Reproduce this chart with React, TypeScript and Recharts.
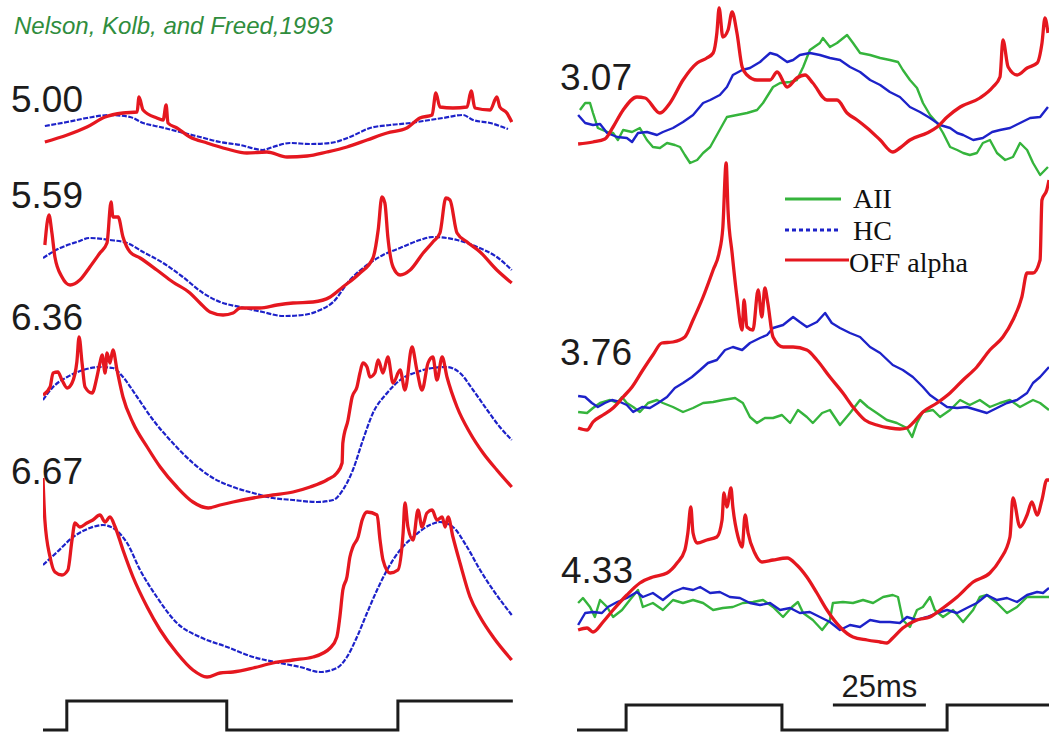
import React from 'react';
import { LineChart, Line, XAxis, YAxis, ReferenceLine } from 'recharts';

type Pt = [number, number];

// ---- colours -------------------------------------------------------------
const RED = '#e5171f';
const BLUE = '#1d22c9';
const GREEN = '#35b43c';
const INK = '#1c1c1c';

// ---- labels --------------------------------------------------------------
const titleText = 'Nelson, Kolb, and Freed,1993';
const leftLabels = ['5.00', '5.59', '6.36', '6.67'];
const rightLabels = ['3.07', '3.76', '4.33'];
const legendNames = ['AII', 'HC', 'OFF alpha'];
const scaleBarText = '25ms';
const scaleBarMs: [number, number] = [68.8, 93.8];

// ---- recordings: [time (ms), response (a.u.)] ------------------------------
// Left column (OFF alpha vs HC)
const offA: Pt[] = [[0.5,28],[6.5,35],[11.8,43],[16.7,53],[21.5,57],[25.3,58],[25.8,73],[26.9,60],[30.6,52],[32.3,50],[33.1,65],[33.6,47],[36,42],[39.5,33],[44.1,27],[49.5,21],[54.8,17],[60.2,18],[65.6,13],[71,14],[76.3,18],[81.7,23],[87.1,30],[92.5,37],[97.8,42],[101.3,52],[104.6,55],[105.6,77],[106.7,63],[110.2,62],[114,63],[115.1,79],[116.1,62],[120.2,60],[122,73],[122.8,63],[124.7,57],[126,48]];
const hcA: Pt[] = [[0.5,44],[6.5,48],[11.8,52],[18,55],[23.4,53],[26.9,47],[31.5,43],[36.8,38],[42.2,33],[47.6,28],[53,25],[59.1,20],[61.8,23],[66.4,27],[71.8,26],[77.2,27],[82.5,33],[87.9,42],[93.3,45],[98.7,47],[102.2,49],[107.5,52],[112.9,55],[115.6,50],[120.2,47],[125,41]];

const offB: Pt[] = [[0.5,85],[1.6,115],[2.4,97],[3.2,73],[5.1,53],[7.3,45],[9.9,50],[12.6,63],[15.3,77],[17.2,87],[18.3,128],[18.8,113],[20.2,113],[21.5,93],[23.4,78],[26.1,72],[30.6,60],[34.9,48],[39.5,37],[42.2,27],[44.9,18],[48.4,15],[51.1,17],[53,22],[58.3,22],[62.9,25],[67.2,27],[72.6,28],[77.2,33],[80.6,43],[85.2,57],[88.7,72],[90.1,100],[91.1,133],[91.9,127],[92.7,93],[94.1,63],[96,55],[98.7,60],[102.2,77],[104.8,88],[106.7,97],[108.3,132],[109.4,130],[111.3,97],[114,88],[117.5,78],[122,60],[126,47]];
const hcB: Pt[] = [[0,72],[4.6,82],[9.1,88],[12.6,92],[18,90],[22.6,87],[26.9,78],[32.3,67],[37.6,53],[43,37],[47.6,28],[53,23],[59.1,18],[64.5,14],[69.9,15],[74.5,20],[78,28],[82.5,50],[87.1,65],[91.4,75],[96,82],[101.3,90],[104.8,93],[111.3,90],[116.7,83],[122,73],[126,60]];

const offC: Pt[] = [[0,125],[1.9,133],[2.7,147],[4,148],[5.1,140],[6.5,132],[7.8,137],[9.1,158],[9.7,183],[10.5,157],[11.3,133],[13.2,127],[14.5,143],[15.3,157],[15.9,165],[16.7,147],[17.2,167],[18,157],[18.8,170],[19.9,150],[21.5,123],[24.2,97],[28,73],[31.5,53],[36,33],[40.3,18],[44.4,12],[47.6,15],[51.1,18],[56.5,22],[61.8,25],[67.2,28],[71.8,33],[76.3,40],[79,47],[80.4,57],[80.6,77],[82,100],[83.1,123],[84.4,133],[85.2,147],[86,157],[87.1,153],[87.9,143],[89.2,147],[90.1,160],[91.4,147],[92.7,163],[94.1,137],[96,150],[97.3,130],[99.2,173],[100.5,150],[101.9,130],[103.5,157],[104.8,163],[105.9,140],[107.3,163],[108.6,143],[111.3,113],[114.8,87],[118.3,67],[122,50],[126,33]];
const hcC: Pt[] = [[0,120],[2.7,133],[6.5,143],[10.8,150],[15.3,153],[18.8,152],[21.5,143],[25.3,123],[29.6,100],[34.9,77],[40.3,57],[45.7,42],[51.1,33],[56.5,27],[61.8,22],[67.2,20],[73.7,18],[78,20],[80.6,30],[83.3,50],[86,80],[88.7,107],[92.5,127],[96,140],[100.5,148],[104.8,152],[108.6,153],[112.1,147],[115.6,130],[119.4,110],[122.8,93],[126,80]];

const offD: Pt[] = [[0,212],[0.5,170],[1.9,133],[3.2,118],[5.1,115],[6.7,120],[7.8,150],[8.6,167],[9.9,163],[11.8,167],[13.4,170],[15.3,175],[16.7,168],[18,173],[19.4,163],[21.5,140],[24.2,113],[28,83],[31.5,60],[36,37],[40.3,20],[44.1,13],[47.6,17],[51.1,18],[56.5,22],[61.8,27],[67.2,30],[72.6,33],[77.2,42],[79,53],[79.8,73],[80.6,100],[81.7,113],[82.5,133],[83.3,143],[84.7,153],[85.8,170],[87.1,178],[89.8,175],[90.6,150],[91.4,130],[93.3,117],[95.4,120],[96.8,157],[97.3,187],[98.1,163],[99.5,150],[100.8,180],[101.9,163],[103.2,177],[104.6,180],[105.9,170],[107.3,173],[108.1,163],[108.9,173],[110.2,153],[112.1,127],[114.8,93],[117.5,73],[121,53],[126,30]];
const hcD: Pt[] = [[0,125],[3.8,138],[8.1,153],[12.6,162],[16.1,165],[18.8,162],[22.6,147],[26.1,120],[30.6,93],[36,67],[42.2,53],[49.5,43],[56.5,33],[63.7,27],[69.1,23],[74.5,18],[79,22],[81.7,33],[84.4,53],[87.1,77],[89.8,100],[92.5,120],[96,140],[99.5,153],[104,165],[106.7,168],[110.2,163],[114,143],[117.5,120],[121,100],[126,75]];

// Right column (AII, HC, OFF alpha)
const offE: Pt[] = [[0.3,46],[4.3,48],[7.5,51],[9.7,63],[12.4,80],[16.1,93],[18.3,92],[22.3,77],[25,87],[28.5,110],[32.3,127],[34.9,132],[36.6,137],[37.6,157],[38.2,182],[39.2,153],[40.6,160],[41.7,178],[43,157],[44.4,123],[45.7,115],[48.4,110],[51.9,110],[53.8,118],[56.5,103],[59.1,112],[61.3,115],[63.4,107],[67.2,90],[69.9,90],[72.6,77],[75.3,70],[78,62],[81.5,50],[84.9,38],[86.8,42],[89.5,50],[94.1,57],[96.8,63],[99.5,73],[103,83],[108.3,92],[111.8,103],[113.7,113],[114.5,150],[115.9,123],[118.3,115],[121,122],[123.7,127],[125,147],[125.8,172],[126.6,157]];
const hcE: Pt[] = [[0.3,75],[2.2,67],[4.3,65],[6.2,66],[8.1,57],[10.8,53],[13.4,52],[14.8,48],[16.4,57],[18.8,58],[21.5,55],[23.1,58],[25.8,62],[28.5,68],[31.2,75],[33.9,87],[35.8,90],[38.4,95],[40.3,103],[41.9,115],[44.4,120],[46.5,122],[49.2,128],[51.9,137],[53.8,135],[56.5,128],[58.1,130],[59.9,135],[62.6,137],[65.3,135],[68,132],[70.7,130],[73.4,123],[76.1,118],[78.8,110],[81.5,105],[84.1,98],[86.8,93],[89.5,83],[92.2,78],[94.9,72],[97.6,65],[100.3,62],[102.2,57],[103.8,55],[106.5,50],[109.1,52],[111.6,58],[113.7,60],[116.4,62],[119.1,67],[121.8,72],[124.5,73],[126.6,83]];
const aiiE: Pt[] = [[0.8,80],[2.2,87],[3.5,87],[4.3,77],[5.6,62],[8.1,58],[9.7,57],[11,50],[12.4,60],[14.8,58],[16.9,62],[18.8,50],[20.4,43],[22.3,42],[24.2,47],[26.3,45],[27.7,43],[29,35],[30.4,27],[32.3,30],[33.9,37],[35.8,43],[37.9,57],[40.3,73],[43,75],[45.7,77],[48.4,80],[50,87],[52.7,103],[54.6,107],[57.3,108],[59.1,110],[60.8,123],[62.6,140],[65.3,147],[66.1,152],[68,143],[69.9,147],[72.6,155],[74.2,147],[76.1,137],[78.8,135],[81.5,132],[84.1,130],[86.3,128],[87.6,120],[89.5,110],[91.4,102],[93,87],[94.9,75],[96.8,67],[98.4,57],[100.3,43],[102.2,40],[103.8,37],[105.6,35],[107.5,37],[109.1,47],[111,50],[112.9,37],[115.1,30],[117.2,33],[119.1,47],[121,40],[122.6,27],[124.5,15],[126.6,23]];

const offF: Pt[] = [[0.3,17],[2.7,15],[4.3,23],[7,30],[9.7,37],[12.4,48],[14.8,58],[17.7,75],[20.4,90],[22.8,102],[25.8,103],[29,108],[31.2,125],[33.9,148],[36.6,175],[38.2,192],[39.2,217],[40.1,282],[40.6,235],[41.7,192],[43,148],[44.4,115],[44.9,145],[45.7,118],[47.3,115],[48.7,155],[49.7,128],[50.5,157],[51.3,142],[52.7,108],[55.4,98],[58.1,98],[61.8,95],[64.5,85],[68,68],[71.5,52],[74.2,38],[77.4,25],[80.6,20],[84.1,17],[86.8,16],[88.7,17],[90.3,22],[93,33],[96.8,42],[100.3,52],[103.8,65],[107.5,78],[111,95],[114.5,108],[117.2,125],[119.6,148],[121,172],[122.6,172],[124.5,185],[125,245],[126.3,255],[126.9,265]];
const hcF: Pt[] = [[0.3,49],[2.2,48],[4,42],[5.6,38],[7.5,42],[9.4,45],[11.6,43],[13.4,40],[15.1,33],[17.5,38],[19.6,37],[21.8,42],[24.2,48],[26.3,57],[28.5,62],[30.9,68],[33.1,75],[35.2,82],[37.6,85],[39.8,95],[41.9,98],[44.4,95],[46.5,102],[49.2,107],[51.1,110],[52.7,117],[55.4,120],[58.1,128],[59.9,123],[61.8,118],[64.5,123],[66.7,132],[68.5,122],[70.7,117],[73.4,112],[76.1,108],[78.8,98],[81.5,92],[84.9,80],[87.6,75],[90.3,68],[93,58],[94.9,50],[96.8,45],[99.5,38],[102.2,37],[104.8,38],[107.5,35],[110.2,32],[112.9,37],[115.6,42],[118.3,45],[121,52],[122.6,62],[124.5,68],[126.9,78]];
const aiiF: Pt[] = [[0.3,33],[2.7,32],[4.3,37],[6.2,42],[8.9,45],[10.8,42],[12.1,48],[13.4,42],[15.1,38],[16.9,33],[19.1,42],[21.5,45],[23.1,42],[25.8,38],[28.5,33],[31.2,37],[33.9,42],[36.6,43],[39.2,45],[42.5,47],[44.6,42],[46.5,28],[48.4,22],[50.5,27],[52.7,27],[55.1,30],[57.3,22],[59.4,35],[61.8,28],[63.4,22],[65.9,32],[68,35],[70.7,20],[73.4,32],[76.1,45],[78.2,38],[80.6,32],[83.3,25],[86,22],[88.7,17],[90.1,8],[91.4,22],[93,33],[95.7,35],[97.6,28],[100.3,35],[103,45],[105.6,40],[108.3,45],[111,38],[113.7,42],[116.4,45],[119.1,38],[122.6,45],[124.5,42],[126.9,35]];

const offG: Pt[] = [[0.3,20],[2.7,22],[4.3,18],[7,28],[9.7,40],[13.4,55],[16.9,67],[20.4,73],[24.2,77],[26.9,87],[29,100],[29.8,117],[30.6,143],[31.2,117],[32.3,107],[34.9,110],[37.6,113],[39,130],[39.5,157],[40.3,143],[41.4,162],[41.9,143],[43.3,113],[44.4,103],[45.2,135],[46,117],[47.8,97],[49.7,88],[52.7,90],[56.5,92],[59.1,85],[61.8,73],[64.5,57],[67.2,40],[70.7,23],[74.2,13],[78,10],[81.5,8],[83.3,7],[84.9,12],[87.6,22],[91.4,30],[94.9,33],[98.4,42],[102.2,53],[106.5,68],[111,77],[113.7,90],[116.4,113],[117.2,152],[119.1,123],[121,135],[122.3,148],[123.7,135],[125,150],[126.3,170],[126.9,170]];
const hcG: Pt[] = [[0.3,25],[2.2,37],[4.3,38],[6.7,37],[8.3,43],[10.8,48],[13.4,52],[16.1,58],[17.7,53],[20.4,57],[23.1,50],[25.8,58],[28.5,62],[31.2,60],[33.1,63],[35.8,57],[38.4,58],[41.1,53],[43.8,52],[46.5,47],[49.2,45],[51.9,47],[54.6,40],[57.3,42],[59.9,37],[62.6,38],[65.3,33],[68,28],[70.7,20],[73.4,25],[76.1,23],[78.8,30],[81.5,28],[84.1,28],[86.8,27],[88.7,33],[91.4,30],[94.1,33],[96.8,37],[99.5,40],[102.2,37],[104.8,42],[107.5,47],[110.2,55],[112.9,50],[115.6,52],[118.3,48],[121,55],[123.7,58],[125.3,57],[126.9,62]];
const aiiG: Pt[] = [[0.3,47],[1.6,52],[3.5,43],[4.8,33],[6.2,50],[8.1,43],[9.7,33],[12.1,40],[14.2,50],[16.4,60],[17.7,43],[20.4,47],[23.1,40],[25.8,50],[28.5,47],[31.2,50],[33.9,47],[36.6,40],[39.2,42],[41.9,43],[44.6,47],[47.3,48],[50,50],[52.7,43],[55.4,33],[57.8,43],[59.4,48],[60.8,37],[63.4,30],[65.9,20],[68,30],[68.8,47],[71.5,48],[74.2,47],[76.9,50],[79.6,47],[82.3,53],[84.9,55],[86.3,53],[87.6,30],[89.5,23],[91.4,40],[93,43],[94.9,53],[96.2,40],[98.4,33],[101.1,40],[103.8,28],[106.5,40],[108.3,53],[110.2,55],[112.9,47],[115.6,37],[118.3,43],[121,53],[123.7,53],[126.9,53]];

// Stimulus (0 = dark, 1 = light), step times in ms
const stimLeft: Pt[] = [[0,0],[6.4,1],[49.4,0],[95.4,1],[126.3,1]];
const stimRight: Pt[] = [[0,0],[13.2,1],[55.1,0],[99.5,1],[126.9,1]];

// ---- layout --------------------------------------------------------------
const PX_PER_MS = 3.72;
const LEFT_X = 43;
const RIGHT_X = 577;
const LEFT_W = 470;
const RIGHT_W = 472;

type Curve = 'linear' | 'monotoneX';
type Series = { data: Pt[]; color: string; width: number; dash?: string; curve: Curve };
type PanelDef = { label: string; top: number; height: number; series: Series[]; labelPos: [number, number] };

const hcDash = '5 1.5';
const off = (data: Pt[]): Series => ({ data, color: RED, width: 3.3, curve: 'monotoneX' });
const hcDotted = (data: Pt[]): Series => ({ data, color: BLUE, width: 2.2, dash: hcDash, curve: 'monotoneX' });
const hcSolid = (data: Pt[]): Series => ({ data, color: BLUE, width: 2.4, curve: 'linear' });
const aii = (data: Pt[]): Series => ({ data, color: GREEN, width: 2.4, curve: 'linear' });

const leftPanels: PanelDef[] = [
  { label: leftLabels[0], top: 80, height: 90, labelPos: [11, 112], series: [hcDotted(hcA), off(offA)] },
  { label: leftLabels[1], top: 190, height: 140, labelPos: [11, 208], series: [hcDotted(hcB), off(offB)] },
  { label: leftLabels[2], top: 330, height: 190, labelPos: [11, 330], series: [hcDotted(hcC), off(offC)] },
  { label: leftLabels[3], top: 470, height: 220, labelPos: [11, 484], series: [hcDotted(hcD), off(offD)] },
];

const rightPanels: PanelDef[] = [
  { label: rightLabels[0], top: 0, height: 190, labelPos: [560, 90], series: [aii(aiiE), hcSolid(hcE), off(offE)] },
  { label: rightLabels[1], top: 160, height: 285, labelPos: [560, 365], series: [aii(aiiF), hcSolid(hcF), off(offF)] },
  { label: rightLabels[2], top: 470, height: 180, labelPos: [561, 583], series: [aii(aiiG), hcSolid(hcG), off(offG)] },
];

const rows = (pts: Pt[]) => pts.map(([t, v]) => ({ t, v }));

function TracePanel({ x, width, def }: { x: number; width: number; def: PanelDef }) {
  const span = width / PX_PER_MS;
  return (
    <div style={{ position: 'absolute', left: x, top: def.top }}>
      <LineChart width={width} height={def.height} margin={{ top: 0, right: 0, bottom: 0, left: 0 }} style={{ overflow: 'visible' }}>
        <XAxis type="number" dataKey="t" domain={[0, span]} hide />
        <YAxis type="number" domain={[0, def.height]} hide />
        {def.series.map((s, i) => (
          <Line key={i} data={rows(s.data)} dataKey="v" type={s.curve} stroke={s.color} strokeWidth={s.width}
            strokeDasharray={s.dash} strokeLinejoin="round" dot={false} activeDot={false} isAnimationActive={false} />
        ))}
      </LineChart>
    </div>
  );
}

function Stimulus({ x, width, top, height, padTop, data, bar }: { x: number; width: number; top: number; height: number; padTop: number; data: Pt[]; bar?: boolean }) {
  const span = width / PX_PER_MS;
  return (
    <div style={{ position: 'absolute', left: x, top }}>
      <LineChart width={width} height={height} margin={{ top: padTop, right: 0, bottom: 5, left: 0 }} style={{ overflow: 'visible' }}>
        <XAxis type="number" dataKey="t" domain={[0, span]} hide />
        <YAxis type="number" domain={[0, 1]} hide />
        <Line data={rows(data)} dataKey="v" type="stepAfter" stroke={INK} strokeWidth={3} dot={false} activeDot={false} isAnimationActive={false} />
        {bar && (
          <ReferenceLine segment={[{ x: scaleBarMs[0], y: 1 }, { x: scaleBarMs[1], y: 1 }]} stroke={INK} strokeWidth={3}
            label={{ value: scaleBarText, position: 'top', offset: 8, fill: INK, fontSize: 31, fontFamily: '"Liberation Sans", Arial, sans-serif' }} />
        )}
      </LineChart>
    </div>
  );
}

const legendItems = [
  { name: legendNames[0], color: GREEN, dash: undefined as string | undefined, y: 199, x2: 841, textX: 853, base: 208 },
  { name: legendNames[1], color: BLUE, dash: '4 3', y: 230, x2: 841, textX: 853, base: 240 },
  { name: legendNames[2], color: RED, dash: undefined, y: 260, x2: 849, textX: 849, base: 272 },
];

export default function App() {
  const sans = '"Liberation Sans", Arial, Helvetica, sans-serif';
  return (
    <div style={{ position: 'absolute', left: 0, top: 0, width: 1049, height: 736, background: '#fff', overflow: 'hidden' }}>
      <svg width={1049} height={736} style={{ position: 'absolute', left: 0, top: 0 }}>
        <text x={14} y={34} fill="#2f8d3d" fontSize={24} fontStyle="italic" fontFamily={sans}>{titleText}</text>
        {[...leftPanels, ...rightPanels].map((p) => (
          <text key={p.label} x={p.labelPos[0]} y={p.labelPos[1]} fill={INK} fontSize={37} fontFamily={sans}>{p.label}</text>
        ))}
        {legendItems.map((it) => (
          <g key={it.name}>
            <line x1={785} x2={it.x2} y1={it.y} y2={it.y} stroke={it.color} strokeWidth={3} strokeDasharray={it.dash} />
            <text x={it.textX} y={it.base} fill="#111" fontSize={28} fontFamily='"Liberation Serif", "Times New Roman", serif'>{it.name}</text>
          </g>
        ))}
      </svg>
      {leftPanels.map((p) => <TracePanel key={p.label} x={LEFT_X} width={LEFT_W} def={p} />)}
      {rightPanels.map((p) => <TracePanel key={p.label} x={RIGHT_X} width={RIGHT_W} def={p} />)}
      <Stimulus x={LEFT_X} width={LEFT_W} top={696} height={39} padTop={5} data={stimLeft} />
      <Stimulus x={RIGHT_X} width={RIGHT_W} top={670} height={65} padTop={35} data={stimRight} bar />
    </div>
  );
}
